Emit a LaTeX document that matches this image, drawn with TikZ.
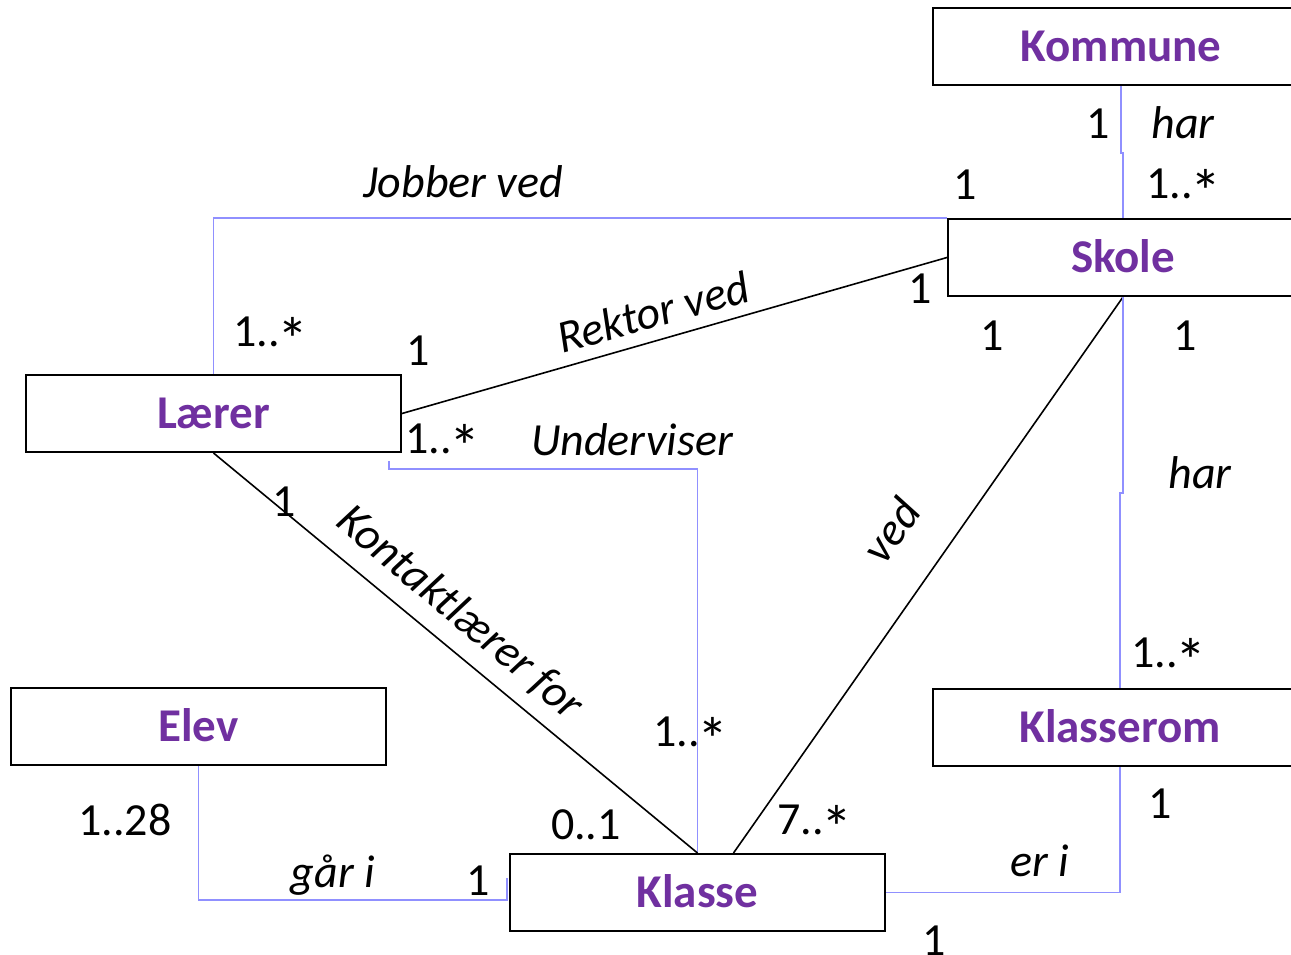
\documentclass[tikz,border=0pt]{standalone}
\usepackage{fontspec}
\setmainfont{Carlito}
\usetikzlibrary{calc}
\definecolor{titlepurple}{HTML}{7030A0}
\definecolor{assocblue}{HTML}{9090FF}
% multiplicity star, drawn a little larger than the font's own
\newcommand{\mstar}{\kern-0.05em\raisebox{-0.34em}{\scalebox{1.35}{*}}}
\begin{document}
\begin{tikzpicture}[x=0.5pt,y=-0.5pt,
  classbox/.style={draw=black,line width=1pt,fill=white,minimum height=38.5pt,inner sep=0pt,
    font=\fontsize{23.5}{28}\selectfont\bfseries,text=titlepurple,text height=15.1pt,text depth=0pt},
  blueline/.style={draw=assocblue,line width=0.9pt},
  blackline/.style={draw=black,line width=0.8pt},
  mult/.style={anchor=base,inner sep=0pt,font=\fontsize{23}{28}\selectfont},
  assoc/.style={anchor=base,inner sep=0pt,font=\fontsize{23}{28}\selectfont\itshape},
  slanted/.style={anchor=center,inner sep=0pt,font=\fontsize{23}{28}\selectfont\itshape}]
\useasboundingbox (0,0) rectangle (1291,954);

% classes
\node[classbox,minimum width=188pt] (kommune) at (1121,46.5) {Kommune};
\node[classbox,minimum width=175pt] (skole) at (1123,257.5) {Skole};
\node[classbox,minimum width=187.5pt] (laerer) at (213.5,413.5) {Lærer};
\node[classbox,minimum width=187.5pt] (elev) at (198.5,726.5) {Elev};
\node[classbox,minimum width=187pt] (klasserom) at (1120,727.5) {Klasserom};
\node[classbox,minimum width=187.5pt] (klasse) at (697.5,892.5) {Klasse};

% free ends of the bent connectors
\coordinate (uv) at ($(laerer.south east)+(-13,8)$);
\coordinate (gi) at ($(klasse.west)+(-2,-15)$);
\coordinate (vd) at ($(klasse.north)+(36,0)$);

% associations
\draw[blueline] (kommune.south) -- ++(0,67) -| (skole.north);
\draw[blueline] (laerer.north) |- (skole.north west);
\draw[blackline] (laerer.east) -- (skole.west);
\draw[blueline] (uv) -- ++(0,8) -| (klasse.north);
\draw[blackline] (laerer.south) -- (klasse.north);
\draw[blackline] (skole.south) -- (vd);
\draw[blueline] (skole.south) -- ++(0,196) -| (klasserom.north);
\draw[blueline] (elev.south) -- ++(0,134) -| (gi);
\draw[blueline] (klasse.east) -| (klasserom.south);

% Kommune - Skole
\node[mult] (m1) at (1098,138) {1};
\node[assoc] (a1) at (1183,138) {har};
\node[mult] (m2) at (1184,198) {1..\mstar};

% Jobber ved
\node[assoc] (a2) at (463,197) {Jobber ved};
\node[mult] (m3) at (965,199) {1};
\node[mult] (m4) at (271,346) {1..\mstar};

% Rektor ved
\node[slanted,rotate=15.6] (a3) at (653,312) {Rektor ved};
\node[mult] (m5) at (418,365) {1};
\node[mult] (m6) at (920,303) {1};

% Underviser
\node[mult] (m7) at (443,453) {1..\mstar};
\node[assoc] (a4) at (632,455) {Underviser};
\node[mult] (m8) at (691,746) {1..\mstar};

% Kontaktlærer for
\node[slanted,rotate=-40] (a5) at (460,613) {Kontaktlærer for};
\node[mult] (m9) at (284,516) {1};
\node[mult] (m10) at (586,839) {0..1};

% ved
\node[slanted,rotate=55] (a6) at (891,530) {ved};
\node[mult] (m11) at (992,350) {1};
\node[mult] (m12) at (815,834) {7..\mstar};

% Skole - Klasserom
\node[mult] (m13) at (1185,350) {1};
\node[assoc] (a7) at (1200,488) {har};
\node[mult] (m14) at (1169,667) {1..\mstar};

% går i
\node[mult] (m15) at (125,835) {1..28};
\node[assoc] (a8) at (333,887) {går i};
\node[mult] (m16) at (478,895) {1};

% er i
\node[assoc] (a9) at (1040,876) {er i};
\node[mult] (m17) at (1160,818) {1};
\node[mult] (m18) at (934,955) {1};
\end{tikzpicture}
\end{document}
